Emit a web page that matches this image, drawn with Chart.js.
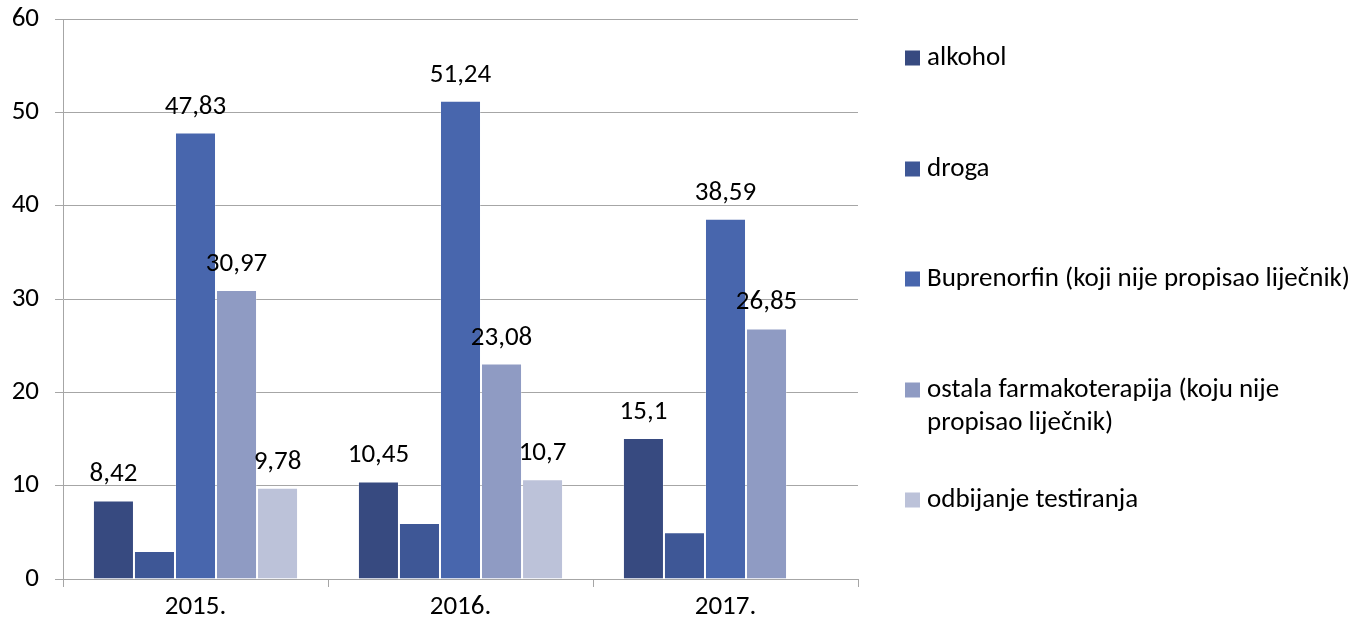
<!DOCTYPE html>
<html>
<head>
<meta charset="utf-8">
<script src="https://cdn.jsdelivr.net/npm/chart.js@4"></script>
<style>
  html, body { margin: 0; padding: 0; background: #ffffff; }
  #wrap { width: 1350px; height: 624px; }
</style>
</head>
<body>
<div id="wrap"><canvas id="testChart" width="1350" height="624"></canvas></div>
<script>
// categories and series
const years = ['2015.', '2016.', '2017.'];
const seriesNames = [
    'alkohol',
    'droga',
    'Buprenorfin (koji nije propisao liječnik)',
    'ostala farmakoterapija (koju nije propisao liječnik)',
    'odbijanje testiranja'
];
const alkohol = [8.42, 10.45, 15.1];
const droga = [3, 6, 5];
const buprenorfin = [47.83, 51.24, 38.59];
const ostala = [30.97, 23.08, 26.85];
const odbijanje = [9.78, 10.7, null];
const yTicks = [0, 10, 20, 30, 40, 50, 60];

// which series get a value label above the bar
const showLabels = [true, false, true, true, true];

const colors = ['#374A80', '#3E5796', '#4866AD', '#8F9BC3', '#BCC2D9'];
const fontFamily = 'Carlito, Calibri, Lato, sans-serif';
const fontSize = 27;
const gridColor = '#A6A6A6';

// value labels drawn above each bar
const valueLabels = {
    id: 'valueLabels',
    afterDatasetsDraw(chart) {
        const ctx = chart.ctx;
        ctx.save();
        ctx.font = fontSize + 'px ' + fontFamily;
        ctx.fillStyle = '#000000';
        ctx.textAlign = 'center';
        ctx.textBaseline = 'alphabetic';
        chart.data.datasets.forEach((ds, i) => {
            if (!showLabels[i]) return;
            const meta = chart.getDatasetMeta(i);
            meta.data.forEach((bar, j) => {
                const v = ds.data[j];
                if (v === null || v === undefined) return;
                ctx.fillText(String(v).replace('.', ','), bar.x, bar.y - 19);
            });
        });
        ctx.restore();
    }
};

// legend on the right, one item per series, long names wrap
const sideLegend = {
    id: 'sideLegend',
    afterDraw(chart) {
        const ctx = chart.ctx;
        const boxX = 905, textX = 927, box = 15;
        const rowY = [58, 169, 279, 390, 500];
        const lineH = 33;
        const maxW = 430;
        ctx.save();
        ctx.font = fontSize + 'px ' + fontFamily;
        ctx.textBaseline = 'middle';
        ctx.textAlign = 'left';
        chart.data.datasets.forEach((ds, i) => {
            const y = rowY[i];
            ctx.fillStyle = colors[i];
            ctx.fillRect(boxX, y - box / 2, box, box);
            ctx.fillStyle = '#000000';
            const words = ds.label.split(' ');
            const lines = [];
            let line = '';
            words.forEach(w => {
                const test = line ? line + ' ' + w : w;
                if (ctx.measureText(test).width > maxW && line) {
                    lines.push(line);
                    line = w;
                } else {
                    line = test;
                }
            });
            lines.push(line);
            lines.forEach((l, k) => ctx.fillText(l, textX, y + k * lineH));
        });
        ctx.restore();
    }
};

const seriesData = [alkohol, droga, buprenorfin, ostala, odbijanje];

new Chart(document.getElementById('testChart'), {
    type: 'bar',
    data: {
        labels: years,
        datasets: seriesNames.map((name, i) => ({
            label: name,
            data: seriesData[i],
            backgroundColor: colors[i],
            borderColor: 'rgba(255,255,255,0.25)',
            borderWidth: 1,
            barPercentage: 1,
            categoryPercentage: 0.774
        }))
    },
    options: {
        responsive: false,
        animation: false,
        layout: {
            padding: { top: 19, right: 492, left: 0, bottom: 0 }
        },
        plugins: {
            legend: { display: false },
            tooltip: { enabled: false }
        },
        scales: {
            x: {
                grid: {
                    offset: true,
                    drawOnChartArea: false,
                    drawTicks: true,
                    tickLength: 8,
                    color: gridColor
                },
                border: { color: gridColor },
                ticks: {
                    color: '#000000',
                    padding: 4,
                    font: { family: fontFamily, size: fontSize }
                },
                afterFit(scale) {
                    scale.height = 45;
                    scale.paddingLeft = 0;
                    scale.paddingRight = 0;
                }
            },
            y: {
                min: 0,
                max: 60,
                afterBuildTicks(scale) {
                    scale.ticks = yTicks.map(v => ({ value: v }));
                },
                grid: {
                    color: gridColor,
                    tickLength: 8
                },
                border: { color: gridColor },
                ticks: {
                    color: '#000000',
                    padding: 16,
                    font: { family: fontFamily, size: fontSize }
                },
                afterFit(scale) {
                    scale.width = 63;
                    scale.paddingTop = 0;
                    scale.paddingBottom = 0;
                }
            }
        }
    },
    plugins: [valueLabels, sideLegend]
});
</script>
</body>
</html>
